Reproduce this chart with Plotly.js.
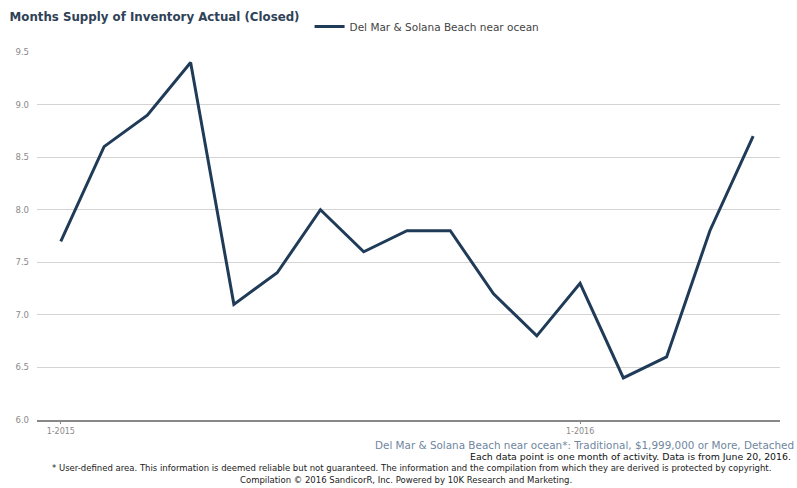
<!DOCTYPE html>
<html>
<head>
<meta charset="utf-8">
<script src="https://cdn.plot.ly/plotly-3.0.1.min.js"></script>
<style>
html,body{margin:0;padding:0;background:#fff;}
#chart{width:797px;height:488px;}
</style>
</head>
<body>
<div id="chart"></div>
<script>
const months = ["1-2015","2-2015","3-2015","4-2015","5-2015","6-2015","7-2015","8-2015","9-2015","10-2015","11-2015","12-2015","1-2016","2-2016","3-2016","4-2016","5-2016"];
const supply = [7.7, 8.6, 8.9, 9.4, 7.1, 7.4, 8.0, 7.6, 7.8, 7.8, 7.2, 6.8, 7.3, 6.4, 6.6, 7.8, 8.7];
const seriesName = "Del Mar & Solana Beach near ocean";
const xTicks = ["1-2015","1-2016"];
const yTicks = [6.0, 6.5, 7.0, 7.5, 8.0, 8.5, 9.0, 9.5];

const trace = {
  x: months,
  y: supply,
  type: "scatter",
  mode: "lines",
  name: seriesName,
  line: {color: "#1f3b58", width: 3}
};

const layout = {
  width: 797, height: 488,
  margin: {l: 37, r: 17, t: 46, b: 68},
  paper_bgcolor: "#ffffff",
  plot_bgcolor: "#ffffff",
  font: {family: "DejaVu Sans, Verdana, sans-serif", color: "#666"},
  title: {
    text: "<b>Months Supply of Inventory Actual (Closed)</b>",
    x: 0.012, xanchor: "left", y: 0.965, yanchor: "middle",
    font: {size: 11.8, color: "#2f4257"}
  },
  showlegend: true,
  legend: {
    orientation: "h", x: 0.525, xanchor: "center", y: 1.03, yanchor: "bottom",
    font: {size: 10.5, color: "#444"}, itemwidth: 30, bgcolor: "rgba(0,0,0,0)"
  },
  xaxis: {
    type: "category",
    categoryorder: "array", categoryarray: months,
    range: [-0.55, 16.62],
    tickvals: xTicks, ticktext: xTicks,
    ticks: "outside", ticklen: 2, tickcolor: "#888",
    tickfont: {size: 8, color: "#8a8a8a"},
    showgrid: false, zeroline: false,
    showline: true, linecolor: "#888", linewidth: 2
  },
  yaxis: {
    range: [6.0, 9.5],
    tickvals: yTicks,
    ticktext: yTicks.map(v => v.toFixed(1)),
    tickfont: {size: 8.5, color: "#8a8a8a"},
    showgrid: true, gridcolor: "#d4d4d4", gridwidth: 1,
    zeroline: false, showline: false,
    ticklabelstandoff: 7
  },
  annotations: [
    {text: "Del Mar & Solana Beach near ocean*: Traditional, $1,999,000 or More, Detached",
     xref: "paper", yref: "paper", x: 1.021, xanchor: "right", y: -0.067, yanchor: "middle",
     showarrow: false, font: {size: 10.4, color: "#6f86a0"}},
    {text: "Each data point is one month of activity. Data is from June 20, 2016.",
     xref: "paper", yref: "paper", x: 1.018, xanchor: "right", y: -0.099, yanchor: "middle",
     showarrow: false, font: {size: 9.4, color: "#111"}},
    {text: "* User-defined area. This information is deemed reliable but not guaranteed. The information and the compilation from which they are derived is protected by copyright.",
     xref: "paper", yref: "paper", x: 0.504, xanchor: "center", y: -0.131, yanchor: "middle",
     showarrow: false, font: {size: 8.5, color: "#222"}},
    {text: "Compilation © 2016 SandicorR, Inc. Powered by 10K Research and Marketing.",
     xref: "paper", yref: "paper", x: 0.496, xanchor: "center", y: -0.162, yanchor: "middle",
     showarrow: false, font: {size: 8.5, color: "#222"}}
  ]
};

Plotly.newPlot("chart", [trace], layout, {displayModeBar: false, staticPlot: true});
</script>
</body>
</html>
